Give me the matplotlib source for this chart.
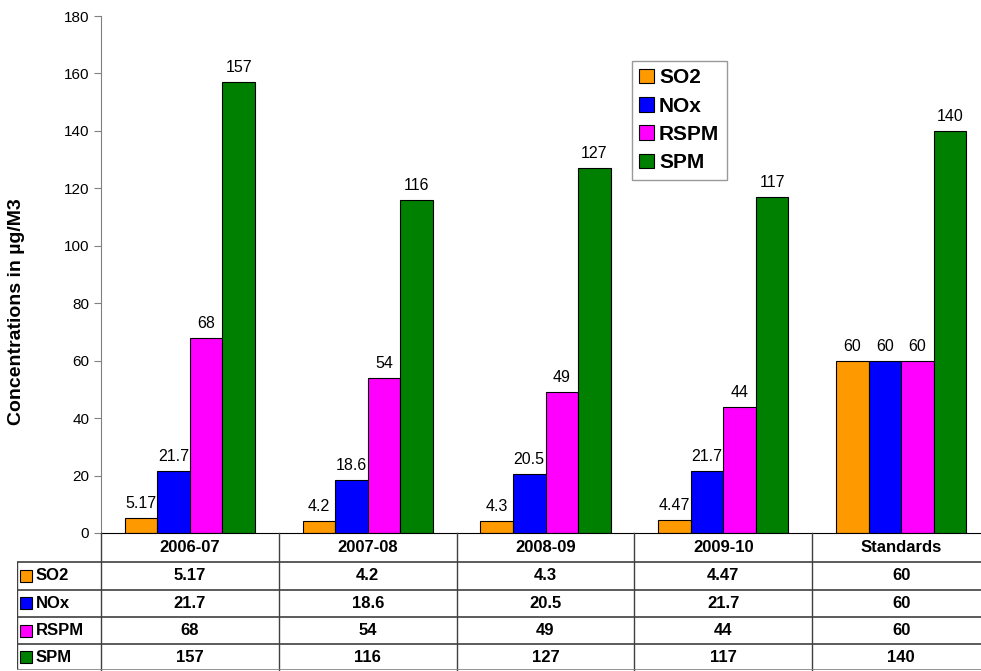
import matplotlib.pyplot as plt
from matplotlib.patches import Rectangle

plt.rcParams['font.family'] = ['Liberation Sans', 'DejaVu Sans']

periods = ['2006-07', '2007-08', '2008-09', '2009-10', 'Standards']
pollutants = ['SO2', 'NOx', 'RSPM', 'SPM']
so2 = [5.17, 4.2, 4.3, 4.47, 60]
nox = [21.7, 18.6, 20.5, 21.7, 60]
rspm = [68, 54, 49, 44, 60]
spm = [157, 116, 127, 117, 140]
series = [so2, nox, rspm, spm]
colors = ['#FF9900', '#0000FF', '#FF00FF', '#008000']

W, H = 981, 671
fig = plt.figure(figsize=(W / 100, H / 100), dpi=100)

# main axes (the right edge runs a bit past the picture, as in the original crop)
x0, x1, ytop, ybot = 101, 990, 16, 533
ax = fig.add_axes([x0 / W, 1 - ybot / H, (x1 - x0) / W, (ybot - ytop) / H])

bw = 0.183
for j, vals in enumerate(series):
    for i, v in enumerate(vals):
        x = i + (j - 1.5) * bw
        ax.bar(x, v, width=bw, color=colors[j], edgecolor='black', linewidth=0.8,
               label=pollutants[j] if i == 0 else None)
        ax.annotate(f'{v:g}', (x, v), xytext=(0, 5), textcoords='offset points',
                    ha='center', va='bottom', fontsize=11.5)

ax.set_xlim(-0.5, 4.5)
ax.set_ylim(0, 180)
ax.set_yticks(range(0, 181, 20))
ax.set_xticks([])
ax.tick_params(axis='y', direction='out', length=5, color='#808080', labelsize=11)
for s in ['top', 'right']:
    ax.spines[s].set_visible(False)
ax.spines['left'].set_color('#808080')
ax.spines['bottom'].set_color('black')
fig.text(17 / W, 1 - 312 / H, 'Concentrations in µg/M3', rotation=90, ha='center',
         va='center', fontsize=14, fontweight='bold')

leg = ax.legend(loc='upper left', bbox_to_anchor=((632 - x0) / (x1 - x0), 1 - (61 - ytop) / (ybot - ytop)),
                frameon=True, fancybox=False, edgecolor='#808080',
                prop={'weight': 'bold', 'size': 15}, handlelength=0.7, handleheight=0.7,
                handletextpad=0.25, labelspacing=0.45, borderpad=0.35, borderaxespad=0)
leg.get_frame().set_linewidth(1)

# data table below the plot
tx0, ty0, ty1 = 17, 533, 670
tab = fig.add_axes([tx0 / W, 1 - ty1 / H, (x1 - tx0) / W, (ty1 - ty0) / H])
tab.set_xlim(tx0, x1)
tab.set_ylim(ty1 - ty0, 0)
tab.axis('off')

colw = (x1 - x0) / len(periods)
row_edges = [0, 29, 56.5, 84, 111, 137]
lc = '#404040'
for k in range(len(periods) + 1):
    xx = x0 + k * colw
    tab.plot([xx, xx], [0, 137], color=lc, lw=1, clip_on=False)
tab.plot([tx0, tx0], [29, 137], color=lc, lw=1)
for r in row_edges[1:]:
    tab.plot([tx0, x1], [r, r], color=lc if r != 137 else '#808080', lw=1.2)
for i, p in enumerate(periods):
    tab.text(x0 + (i + 0.5) * colw, 15, p, ha='center', va='center',
             fontsize=12, fontweight='bold')
for j, vals in enumerate(series):
    yc = (row_edges[j + 1] + row_edges[j + 2]) / 2
    tab.add_patch(Rectangle((20, yc - 6), 12, 12, facecolor=colors[j],
                            edgecolor='black', lw=0.8))
    tab.text(36, yc, pollutants[j], ha='left', va='center', fontsize=12, fontweight='bold')
    for i, v in enumerate(vals):
        tab.text(x0 + (i + 0.5) * colw, yc, f'{v:g}', ha='center', va='center',
                 fontsize=12, fontweight='bold')

plt.savefig('out.png', dpi=100)
